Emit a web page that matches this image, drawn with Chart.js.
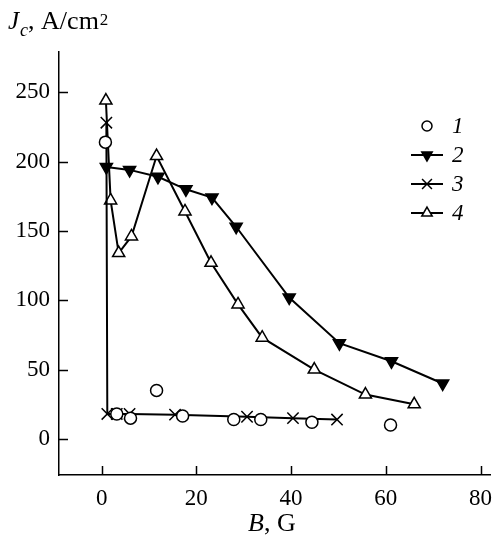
<!DOCTYPE html>
<html>
<head>
<meta charset="utf-8">
<script src="https://cdn.jsdelivr.net/npm/chart.js@4"></script>
<style>
  body { margin: 0; background: #fff; }
  #wrap { width: 494px; height: 537px; }
</style>
</head>
<body>
<div id="wrap"><canvas id="chart" width="494" height="537"></canvas></div>
<script>
const xTicks = [0, 20, 40, 60, 80];
const yTicks = [0, 50, 100, 150, 200, 250];
const legendLabels = ["1", "2", "3", "4"];

const b1 = [0.8, 3.2, 6.1, 11.6, 17.1, 27.9, 33.6, 44.4, 61];
const j1 = [214, 18, 15, 35, 16.5, 14, 14, 12, 10];

const b2 = [1, 5.9, 11.9, 17.8, 23.3, 28.4, 39.6, 50.2, 61.2, 72];
const j2 = [196, 194, 189, 180, 174, 153, 102, 69, 56, 40];

const b3 = [1, 1.2, 3.2, 5.9, 15.5, 30.7, 40.4, 49.7];
const j3 = [228, 18, 18, 18, 17.5, 16, 15, 14];

const b4 = [0.9, 1.9, 3.6, 6.3, 11.6, 17.6, 23.1, 28.8, 33.9, 44.9, 55.7, 66];
const j4 = [244, 172, 134, 146, 204, 164, 127, 97, 73, 50, 32, 25];

const pts = (xs, ys) => xs.map((x, i) => ({ x, y: ys[i] }));
const serif = "'Liberation Serif', 'DejaVu Serif', serif";

const styles = [
  { pointStyle: "circle", radius: 6, rotation: 0, fill: "#fff", line: false },
  { pointStyle: "triangle", radius: 7, rotation: 180, fill: "#000", line: true },
  { pointStyle: "crossRot", radius: 8, rotation: 0, fill: "#fff", line: true },
  { pointStyle: "triangle", radius: 7, rotation: 0, fill: "#fff", line: true },
];

const datasets = [pts(b1, j1), pts(b2, j2), pts(b3, j3), pts(b4, j4)].map((data, i) => ({
  label: legendLabels[i],
  data,
  showLine: styles[i].line,
  borderColor: "#000",
  borderWidth: 2,
  pointStyle: styles[i].pointStyle,
  pointRadius: styles[i].radius,
  pointRotation: styles[i].rotation,
  pointBackgroundColor: styles[i].fill,
  pointBorderColor: "#000",
  pointBorderWidth: 1.5,
  tension: 0
}));

// draws a row of text pieces one after another
function drawRun(ctx, x, pieces) {
  pieces.forEach(p => {
    ctx.font = p.font;
    ctx.fillText(p.text, x + (p.dx || 0), p.y);
    x += ctx.measureText(p.text).width + (p.dx || 0);
  });
}

const decor = {
  id: "decor",
  afterDraw(chart) {
    const ctx = chart.ctx;
    const xs = chart.scales.x, ys = chart.scales.y;
    const area = chart.chartArea;
    ctx.save();
    ctx.strokeStyle = "#000";
    ctx.lineWidth = 1.5;
    // inward ticks
    ctx.beginPath();
    yTicks.forEach(v => {
      const p = Math.round(ys.getPixelForValue(v)) + 0.5;
      ctx.moveTo(area.left, p);
      ctx.lineTo(area.left + 9, p);
    });
    xTicks.forEach(v => {
      const p = Math.round(xs.getPixelForValue(v)) + 0.5;
      ctx.moveTo(p, area.bottom);
      ctx.lineTo(p, area.bottom - 9);
    });
    ctx.stroke();

    // x tick labels
    ctx.fillStyle = "#000";
    ctx.font = "23px " + serif;
    ctx.textAlign = "center";
    ctx.textBaseline = "alphabetic";
    xTicks.forEach(v => ctx.fillText(String(v), xs.getPixelForValue(v), 505));

    // legend
    const rows = [126, 155, 184, 213];
    rows.forEach((y, i) => {
      const s = styles[i];
      ctx.lineWidth = 2;
      if (s.line) {
        ctx.beginPath();
        ctx.moveTo(411, y);
        ctx.lineTo(443, y);
        ctx.stroke();
      }
      ctx.fillStyle = s.fill;
      ctx.lineWidth = 1.5;
      Chart.helpers.drawPoint(ctx, { pointStyle: s.pointStyle, radius: s.radius - 1, rotation: s.rotation, borderWidth: 1.5 }, 427, y);
      ctx.fillStyle = "#000";
      ctx.font = "italic 23px " + serif;
      ctx.textBaseline = "middle";
      ctx.textAlign = "left";
      ctx.fillText(legendLabels[i], 452, y + 1);
    });

    // axis titles
    ctx.fillStyle = "#000";
    ctx.textBaseline = "alphabetic";
    ctx.textAlign = "left";
    drawRun(ctx, 8, [
      { text: "J", font: "italic 25px " + serif, y: 29 },
      { text: "c", font: "italic 18px " + serif, y: 36, dx: 1 },
      { text: ", ", font: "26px " + serif, y: 29 },
      { text: "A/cm", font: "26px " + serif, y: 29 },
      { text: "2", font: "17px " + serif, y: 25, dx: 1 }
    ]);
    drawRun(ctx, 248, [
      { text: "B", font: "italic 26px " + serif, y: 531 },
      { text: ", G", font: "26px " + serif, y: 531 }
    ]);
    ctx.restore();
  }
};

new Chart(document.getElementById("chart"), {
  type: "scatter",
  data: { datasets },
  options: {
    responsive: false,
    devicePixelRatio: 1,
    animation: false,
    layout: { autoPadding: false, padding: { top: 52, right: 4, left: 0, bottom: 0 } },
    plugins: { legend: { display: false }, tooltip: { enabled: false } },
    scales: {
      x: {
        type: "linear",
        min: -9,
        max: 82,
        afterFit: s => { s.height = 62; },
        afterBuildTicks: s => { s.ticks = xTicks.map(v => ({ value: v })); },
        grid: { display: true, drawOnChartArea: false, drawTicks: false },
        border: { display: true, color: "#000", width: 1.5 },
        ticks: { display: false }
      },
      y: {
        type: "linear",
        min: -26,
        max: 279,
        afterFit: s => { s.width = 59; },
        afterBuildTicks: s => { s.ticks = yTicks.map(v => ({ value: v })); },
        grid: { display: true, drawOnChartArea: false, drawTicks: false },
        border: { display: true, color: "#000", width: 1.5 },
        ticks: { color: "#000", padding: 9, font: { family: serif, size: 23 } }
      }
    }
  },
  plugins: [decor]
});
</script>
</body>
</html>
